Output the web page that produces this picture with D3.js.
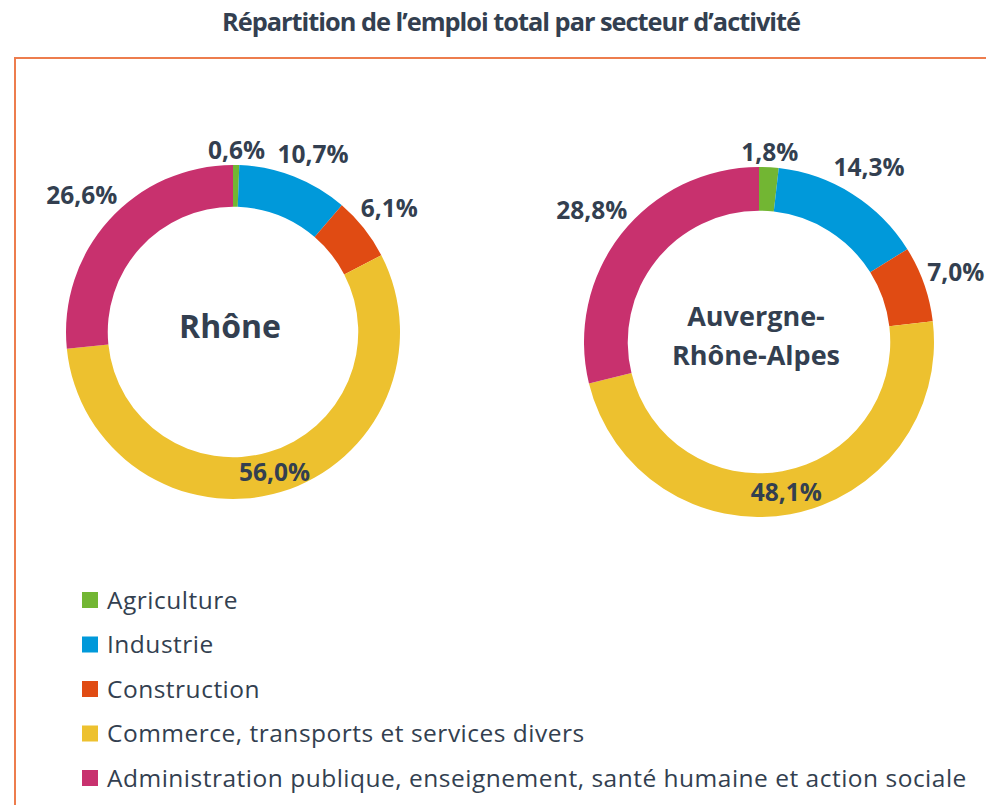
<!DOCTYPE html>
<html>
<head>
<meta charset="utf-8">
<title>Répartition de l'emploi total par secteur d'activité</title>
<script src="https://cdn.jsdelivr.net/npm/d3@7"></script>
<style>
  html, body { margin: 0; padding: 0; background: #fff; }
  svg { display: block; }
</style>
</head>
<body>
<div id="chart"></div>
<script>
// donnees
const secteurs = ["Agriculture", "Industrie", "Construction",
  "Commerce, transports et services divers",
  "Administration publique, enseignement, santé humaine et action sociale"];
const couleurs = ["#72B633", "#0099DA", "#E04B13", "#EDC12F", "#C8316E"];
const rhone = [0.6, 10.7, 6.1, 56.0, 26.6];
const aura = [1.8, 14.3, 7.0, 48.1, 28.8];
const titre = "Répartition de l’emploi total par secteur d’activité";

const W = 986, H = 805;
const ink = "#333F50";

const svg = d3.select("#chart").append("svg")
    .attr("width", W).attr("height", H);

// titre
svg.append("text")
    .attr("x", 511).attr("y", 31)
    .attr("text-anchor", "middle")
    .attr("font-family", "'Open Sans', sans-serif")
    .attr("font-weight", "bold")
    .attr("font-size", 25)
    .attr("letter-spacing", -1)
    .attr("textLength", 578)
    .attr("lengthAdjust", "spacingAndGlyphs")
    .attr("fill", ink)
    .text(titre);

// cadre orange (haut + gauche)
svg.append("path")
    .attr("d", `M15,${H} V58 H${W}`)
    .attr("fill", "none")
    .attr("stroke", "#ED7D4E")
    .attr("stroke-width", 2);

const pie = d3.pie().sort(null).value(d => d);
const fmt = v => d3.format(".1f")(v).replace(".", ",") + "%";

function donut(values, cx, cy, outer, name, nameSize, lineH) {
    const inner = outer * 0.75;
    const arc = d3.arc().innerRadius(inner).outerRadius(outer);
    const g = svg.append("g").attr("transform", `translate(${cx},${cy})`);
    const arcs = pie(values);

    g.selectAll("path")
        .data(arcs)
        .join("path")
        .attr("d", arc)
        .attr("fill", (d, i) => couleurs[i]);

    // etiquettes : au centre de l'anneau pour la grande part, sinon a l'exterieur
    const lbl = g.append("g")
        .attr("font-family", "'Open Sans', sans-serif")
        .attr("font-weight", "bold")
        .attr("font-size", 24.5)
        .attr("fill", ink)
        .attr("text-anchor", "middle");

    const hh = 11;
    let prev = null;
    lbl.selectAll("text")
        .data(arcs)
        .join("text")
        .text(d => fmt(d.data))
        .each(function(d) {
            const t = d3.select(this);
            const hw = this.getComputedTextLength() / 2;
            let a = (d.startAngle + d.endAngle) / 2;
            let x, y;
            const place = () => {
                const r = outer + 3 + Math.abs(hw * Math.sin(a)) + Math.abs(hh * Math.cos(a));
                x = r * Math.sin(a);
                y = -r * Math.cos(a);
            };
            if (d.data > 40) {
                [x, y] = arc.centroid(d);
            } else {
                place();
                // on decale dans le sens horaire si ca chevauche l'etiquette precedente
                while (prev && Math.abs(x - prev.x) < hw + prev.hw + 12 && Math.abs(y - prev.y) < 2 * hh) {
                    a += 0.01;
                    place();
                }
            }
            prev = {x, y, hw};
            t.attr("x", x).attr("y", y).attr("dy", "0.36em");
        });

    // nom au centre
    const lines = name.split("\n");
    g.append("g")
        .attr("font-family", "'Open Sans', sans-serif")
        .attr("font-weight", "bold")
        .attr("font-size", nameSize)
        .attr("fill", ink)
        .attr("text-anchor", "middle")
        .selectAll("text")
        .data(lines)
        .join("text")
        .attr("x", -3)
        .attr("y", (d, i) => (i - (lines.length - 1) / 2) * lineH - 6)
        .attr("dy", "0.36em")
        .text(d => d);
}

donut(rhone, 233, 332, 167, "Rhône", 32, 0);
donut(aura, 759, 342, 175, "Auvergne-\nRhône-Alpes", 27, 39);

// legende
const leg = svg.append("g").attr("transform", "translate(82,600)");
const item = leg.selectAll("g")
    .data(secteurs)
    .join("g")
    .attr("transform", (d, i) => `translate(0,${i * 44.5})`);
item.append("rect")
    .attr("x", 0).attr("y", -8)
    .attr("width", 16).attr("height", 16)
    .attr("fill", (d, i) => couleurs[i]);
item.append("text")
    .attr("x", 25)
    .attr("dy", "0.36em")
    .attr("font-family", "'Open Sans', sans-serif")
    .attr("font-size", 24.5)
    .attr("letter-spacing", 0.5)
    .attr("fill", ink)
    .text(d => d);
</script>
</body>
</html>
